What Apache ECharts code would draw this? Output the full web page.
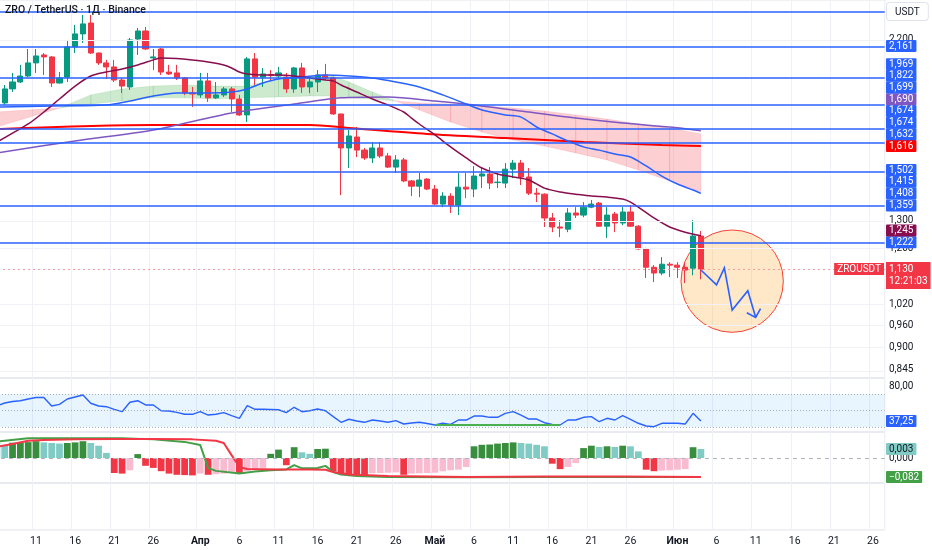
<!DOCTYPE html>
<html>
<head>
<meta charset="utf-8">
<script src="https://cdn.jsdelivr.net/npm/echarts@6/dist/echarts.min.js"></script>
<style>
html,body{margin:0;padding:0;background:#ffffff;}
#chart{width:932px;height:550px;}
</style>
</head>
<body>
<div id="chart"></div>
<script>
// ================= DATA =================
const firstDay = '2025-03-06';
const dayCount = 114;
const monthNames = ['Янв','Фев','Мар','Апр','Май','Июн','Июл','Авг','Сен','Окт','Ноя','Дек'];
const labelDays = [1, 6, 11, 16, 21, 26];

// daily candles: [open, close, low, high]
const candles = [
[1.875,1.832,1.820,1.890],[1.832,1.908,1.821,1.930],[1.908,1.947,1.891,1.999],[1.947,1.981,1.941,2.046],
[1.981,2.058,1.975,2.143],[2.058,2.100,1.999,2.143],[2.106,2.094,1.987,2.118],[2.094,1.941,1.919,2.100],
[1.941,1.970,1.938,2.004],[1.975,2.156,1.947,2.200],[2.156,2.239,2.118,2.298],[2.239,2.305,2.181,2.366],
[2.311,2.118,2.112,2.366],[2.118,2.058,2.046,2.120],[2.058,2.034,1.964,2.076],[2.034,1.958,1.947,2.076],
[1.958,1.924,1.886,1.970],[1.919,2.200,1.902,2.213],[2.206,2.258,2.106,2.278],[2.258,2.143,2.137,2.285],
[2.088,2.094,2.016,2.143],[2.143,2.004,1.987,2.150],[2.004,1.993,1.987,2.046],[1.999,1.970,1.958,2.046],
[1.970,1.886,1.875,1.975],[1.886,1.880,1.811,1.919],[1.875,1.953,1.859,1.999],[1.953,1.859,1.837,1.999],
[1.859,1.875,1.853,1.947],[1.875,1.908,1.864,1.919],[1.908,1.853,1.784,1.919],[1.853,1.769,1.764,1.875],
[1.769,2.082,1.733,2.094],[2.082,1.975,1.930,2.118],[1.975,1.993,1.919,2.028],[1.990,1.984,1.958,2.016],
[1.981,1.999,1.970,2.034],[1.975,1.908,1.886,1.999],[1.908,2.028,1.886,2.034],[2.028,1.919,1.886,2.058],
[1.919,1.947,1.886,1.970],[1.947,1.987,1.891,2.016],[1.987,1.970,1.958,2.052],[1.970,1.774,1.769,1.975],
[1.774,1.607,1.401,1.774],[1.607,1.664,1.516,1.693],[1.659,1.597,1.565,1.708],[1.597,1.561,1.552,1.607],
[1.561,1.607,1.538,1.635],[1.607,1.570,1.561,1.635],[1.570,1.520,1.516,1.584],[1.520,1.552,1.494,1.574],
[1.552,1.460,1.455,1.561],[1.460,1.438,1.397,1.464],[1.438,1.464,1.393,1.494],[1.468,1.426,1.422,1.472],
[1.426,1.365,1.361,1.443],[1.365,1.397,1.353,1.413],[1.397,1.361,1.330,1.409],[1.361,1.434,1.322,1.494],
[1.434,1.426,1.389,1.494],[1.426,1.481,1.393,1.525],[1.481,1.490,1.430,1.516],[1.490,1.451,1.426,1.520],
[1.453,1.455,1.430,1.494],[1.451,1.511,1.430,1.538],[1.511,1.538,1.472,1.552],[1.538,1.477,1.443,1.552],
[1.477,1.409,1.401,1.516],[1.409,1.405,1.373,1.430],[1.405,1.311,1.277,1.409],[1.311,1.277,1.258,1.330],
[1.277,1.273,1.240,1.303],[1.269,1.330,1.258,1.349],[1.330,1.322,1.311,1.353],[1.322,1.353,1.314,1.373],
[1.353,1.365,1.349,1.381],[1.369,1.280,1.277,1.373],[1.280,1.322,1.237,1.353],[1.326,1.292,1.258,1.334],
[1.292,1.334,1.284,1.353],[1.334,1.280,1.277,1.361],[1.280,1.198,1.195,1.284],[1.198,1.136,1.101,1.202],
[1.136,1.117,1.088,1.143],[1.117,1.146,1.110,1.170],[1.146,1.143,1.104,1.153],[1.143,1.136,1.101,1.153],
[1.136,1.127,1.085,1.150],[1.133,1.244,1.110,1.303],[1.244,1.130,1.097,1.262]
];

// moving averages (read at sampled candle indices)
const maFastIdx = [0,4,6,8,10,12,14,16,18,20,21,23,25,27,29,30,31,32,34,36,38,40,42,43,44,46,48,50,52,53,54,56,58,60,62,64,66,68,70,72,74,76,78,80,81,82,84,86,88,90];
const maFast    = [1.635,1.723,1.784,1.853,1.924,1.981,2.004,2.022,2.046,2.076,2.088,2.085,2.076,2.064,2.046,2.028,2.004,1.993,1.987,1.987,1.981,1.970,1.958,1.953,1.930,1.891,1.853,1.821,1.784,1.753,1.723,1.669,1.612,1.561,1.516,1.490,1.477,1.464,1.430,1.414,1.405,1.397,1.393,1.385,1.373,1.353,1.311,1.277,1.258,1.245];
const maMidIdx = [0,7,14,17,20,23,27,30,32,34,36,39,42,45,48,51,54,57,60,62,65,67,69,71,73,75,77,79,81,83,85,87,89,90];
const maMid    = [1.810,1.816,1.821,1.842,1.869,1.886,1.886,1.891,1.908,1.941,1.964,1.975,1.987,1.981,1.970,1.947,1.919,1.875,1.826,1.795,1.769,1.758,1.708,1.674,1.640,1.612,1.597,1.579,1.565,1.525,1.481,1.447,1.422,1.408];
const maSlowIdx = [0,10,20,30,38,44,50,56,62,68,74,80,86,90];
const maSlow    = [1.584,1.640,1.693,1.779,1.826,1.859,1.864,1.842,1.816,1.784,1.753,1.728,1.708,1.690];
const maLongIdx = [0,20,40,45,55,65,75,85,90];
const maLong    = [1.698,1.718,1.718,1.703,1.674,1.654,1.635,1.621,1.616];

// cloud boundaries (fast A / slow B)
const cloudIdx = [0,8,12,16,20,24,28,32,36,40,43,45,48,51,54,58,62,66,70,74,78,82,86,90];
const cloudA   = [1.708,1.805,1.875,1.908,1.924,1.930,1.924,1.924,1.964,1.981,1.981,1.947,1.891,1.842,1.795,1.733,1.683,1.645,1.616,1.584,1.552,1.507,1.460,1.415];
const cloudB   = [1.784,1.805,1.826,1.842,1.859,1.859,1.853,1.859,1.864,1.869,1.869,1.859,1.853,1.842,1.832,1.826,1.816,1.805,1.789,1.769,1.748,1.723,1.703,1.674];

// drawn horizontal levels
const hLines = [2.387, 2.161, 1.969, 1.822, 1.699, 1.632, 1.502, 1.359, 1.222];
const extraScaleValues = [1.674];
const priceTicks = [2.2, 1.3, 1.2, 1.02, 0.96, 0.9, 0.845];
const lastPrice = 1.130;
const countdown = '12:21:03';

// projection drawing
const projIdx = [90, 92, 93, 94, 96, 97];
const projVal = [1.127, 1.079, 1.134, 1.003, 1.061, 0.982];
const circleIdx = 94, circleCenter = 1.091, circleTop = 1.266;

// RSI
const rsi = [55.8,59.4,61.3,62.2,64.3,66.2,66.2,55.8,57.8,64.3,
66.8,69.2,59.1,55.8,54.9,51.7,48.8,60.3,62.2,57.0,
57.0,50.0,49.6,48.0,45.6,45.6,48.8,44.7,45.6,47.6,
43.9,40.7,56.1,51.7,51.7,51.5,51.2,47.6,54.2,48.8,
50.0,52.1,50.0,42.7,35.8,39.5,37.4,35.8,38.6,37.4,
35.8,37.8,33.7,34.9,35.8,34.3,32.5,34.6,33.3,38.6,
38.6,43.5,43.5,41.9,41.9,46.8,48.8,44.7,39.8,39.8,
35.3,33.3,32.5,38.6,38.6,41.9,42.7,36.5,40.7,38.6,
43.9,39.5,34.6,31.3,30.4,34.6,34.6,34.6,33.7,46.8,
37.25];
const rsiLevels = [70, 50, 30];
const bullIdx = [56, 72];
const bullVal = [32.5, 32.5];

// oscillator histogram
const hist = [0.0050,0.0043,0.0051,0.0052,0.0053,0.0056,0.0052,0.0050,0.0048,0.0050,
0.0052,0.0056,0.0050,0.0041,0.0017,-0.0050,-0.0052,-0.0041,0.0013,-0.0026,
-0.0033,-0.0044,-0.0052,-0.0056,-0.0057,-0.0058,-0.0052,-0.0056,-0.0054,-0.0052,
-0.0050,-0.0052,-0.0044,-0.0037,-0.0033,0.0014,0.0028,-0.0024,0.0036,0.0019,
0.0014,0.0030,0.0031,-0.0044,-0.0050,-0.0056,-0.0057,-0.0058,-0.0051,-0.0050,
-0.0049,-0.0048,-0.0056,-0.0052,-0.0051,-0.0050,-0.0049,-0.0044,-0.0041,-0.0039,
-0.0030,0.0039,0.0044,0.0045,0.0048,0.0050,0.0052,0.0050,0.0048,0.0044,
0.0039,-0.0019,-0.0037,-0.0030,-0.0017,0.0033,0.0041,0.0037,0.0039,0.0037,
0.0041,0.0039,0.0022,-0.0039,-0.0044,-0.0042,-0.0041,-0.0039,-0.0037,0.0036,
0.0030];
// oscillator lines
const oscRedIdx = [0,2,4,6,10,15,20,25,28,29,30,31,32,36,40,42,43,45,50,60,70,80,90];
const oscRed    = [0.76,0.84,0.93,0.95,0.97,0.98,0.98,0.97,0.93,0.87,0.53,0.20,0.14,0.13,0.13,0.12,0.06,-0.01,-0.05,-0.08,-0.07,-0.07,-0.08];
const oscGreenIdx = [0,4,10,16,20,24,26,27,28,31,33,35,37,38,39,41,42,43,44,46,50,60,70,80,90];
const oscGreen    = [0.91,1.00,1.00,1.00,0.97,0.90,0.81,0.17,0.09,0.02,0.07,0.11,0.13,0.25,0.16,0.17,0.23,0.06,-0.01,-0.05,-0.08,-0.09,-0.08,-0.08,-0.082];

// ================= BUILD =================
const dates = [];
const d0 = new Date(firstDay + 'T00:00:00Z').getTime();
for (let i = 0; i < dayCount; i++) dates.push(new Date(d0 + i * 86400000).toISOString().slice(0, 10));
const dayOf = s => +s.slice(8, 10);
const isLabelDay = (index) => labelDays.indexOf(dayOf(dates[index])) >= 0;
const pairs = (idx, vals) => idx.map((i, k) => [dates[i], vals[k]]);

const GL = -7, GR = 47.3;
const gridDefs = [[0, 378], [378, 54], [432, 51], [483, 47]];
const FONTF = 'Roboto, "Noto Sans", sans-serif';

const xAxes = gridDefs.map((g, gi) => ({
  type: 'category', gridIndex: gi, data: dates, boundaryGap: true,
  axisLine: { show: false }, axisTick: { show: false },
  axisLabel: {
    show: gi === 3, interval: isLabelDay, margin: 6, color: '#131722', fontSize: 10.5, fontFamily: FONTF,
    formatter: v => dayOf(v) === 1 ? '{m|' + monthNames[+v.slice(5, 7) - 1] + '}' : String(dayOf(v)),
    rich: { m: { fontWeight: 'bold', fontSize: 10.5, color: '#131722', fontFamily: FONTF } }
  },
  splitLine: { show: true, interval: isLabelDay, lineStyle: { color: '#eff1f6', width: 1 } }
}));

const yAxes = [
  { type: 'log', logBase: 10, gridIndex: 0, min: 0.8232, max: 2.471, show: false },
  { type: 'value', gridIndex: 1, min: 23.92, max: 90.04, show: false },
  { type: 'value', gridIndex: 2, min: -0.008333, max: 0.008667, show: false },
  { type: 'value', gridIndex: 2, min: -0.2486, max: 1.176, show: false },
  { type: 'value', gridIndex: 3, min: 0, max: 1, show: false }
];

const nulls = dates.map(() => null);

const series = [
  { // tick gridlines
    type: 'line', xAxisIndex: 0, yAxisIndex: 0, data: nulls, z: 0, silent: true,
    markLine: { silent: true, symbol: ['none', 'none'], label: { show: false }, animation: false,
      lineStyle: { color: '#f0f2f7', width: 1, type: 'solid' },
      data: priceTicks.map(v => ({ yAxis: v })) }
  },
  { // cloud
    type: 'custom', xAxisIndex: 0, yAxisIndex: 0, z: 1, silent: true,
    data: cloudIdx.map((x, k) => [x, cloudA[k], cloudB[k]]),
    encode: { x: 0, y: [1, 2] },
    renderItem: (p, api) => {
      const k = p.dataIndex;
      if (k >= cloudIdx.length - 1) return null;
      const a1 = api.coord([cloudIdx[k], cloudA[k]]), b1 = api.coord([cloudIdx[k], cloudB[k]]);
      const a2 = api.coord([cloudIdx[k + 1], cloudA[k + 1]]), b2 = api.coord([cloudIdx[k + 1], cloudB[k + 1]]);
      const up = (cloudA[k] + cloudA[k + 1]) >= (cloudB[k] + cloudB[k + 1]);
      return { type: 'polygon', shape: { points: [a1, a2, b2, b1] },
        style: { fill: up ? 'rgba(76,175,80,0.28)' : 'rgba(242,54,69,0.24)', stroke: up ? 'rgba(76,175,80,0.28)' : 'rgba(242,54,69,0.24)', lineWidth: 0.5 } };
    }
  },
  { // circle drawing
    type: 'custom', xAxisIndex: 0, yAxisIndex: 0, z: 1, silent: true,
    data: [[circleIdx, circleCenter, circleTop]],
    encode: { x: 0, y: [1, 2] },
    renderItem: (p, api) => {
      const c = api.coord([circleIdx, circleCenter]);
      const t = api.coord([circleIdx, circleTop]);
      return { type: 'circle', shape: { cx: c[0], cy: c[1], r: c[1] - t[1] },
        style: { fill: 'rgba(255,152,0,0.22)', stroke: '#f44336', lineWidth: 1 } };
    }
  },
  {
    type: 'candlestick', xAxisIndex: 0, yAxisIndex: 0, data: candles, barWidth: '72%', z: 3,
    itemStyle: { color: '#089981', color0: '#f23645', borderColor: '#089981', borderColor0: '#f23645', borderWidth: 1 }
  },
  { type: 'line', xAxisIndex: 0, yAxisIndex: 0, data: pairs(maLongIdx, maLong), smooth: 0.3, symbol: 'none', z: 4,
    lineStyle: { color: '#ff0000', width: 2 } },
  { type: 'line', xAxisIndex: 0, yAxisIndex: 0, data: pairs(maSlowIdx, maSlow), smooth: 0.3, symbol: 'none', z: 4,
    lineStyle: { color: '#7e57c2', width: 1.5 } },
  { type: 'line', xAxisIndex: 0, yAxisIndex: 0, data: pairs(maMidIdx, maMid), smooth: 0.3, symbol: 'none', z: 4,
    lineStyle: { color: '#2962ff', width: 1.5 } },
  { type: 'line', xAxisIndex: 0, yAxisIndex: 0, data: pairs(maFastIdx, maFast), smooth: 0.3, symbol: 'none', z: 4,
    lineStyle: { color: '#880e4f', width: 1.5 } },
  { // horizontal drawn levels + last price line
    type: 'line', xAxisIndex: 0, yAxisIndex: 0, data: nulls, z: 5, silent: true,
    markLine: { silent: true, symbol: ['none', 'none'], label: { show: false }, animation: false,
      data: hLines.map(v => ({ yAxis: v, lineStyle: { color: '#2962ff', width: 1.5, type: 'solid' } }))
        .concat([{ yAxis: lastPrice, lineStyle: { color: '#f59aa2', width: 1, type: [2, 3], opacity: 1 } }]) }
  },
  { // projection arrow
    type: 'custom', xAxisIndex: 0, yAxisIndex: 0, z: 6, silent: true,
    data: projIdx.map((x, k) => [x, projVal[k]]),
    encode: { x: 0, y: 1 },
    renderItem: (p, api) => {
      if (p.dataIndex !== 0) return null;
      const pts = projIdx.map((x, k) => api.coord([x, projVal[k]]));
      const a = pts[pts.length - 2], b = pts[pts.length - 1];
      const dx = b[0] - a[0], dy = b[1] - a[1], len = Math.hypot(dx, dy);
      const ux = dx / len, uy = dy / len, hl = 10, ang = 0.8;
      const barb = s => [b[0] - hl * (ux * Math.cos(s) - uy * Math.sin(s)), b[1] - hl * (ux * Math.sin(s) + uy * Math.cos(s))];
      return { type: 'group', children: [
        { type: 'polyline', shape: { points: pts }, style: { stroke: '#2962ff', lineWidth: 1.6, fill: 'none' } },
        { type: 'polyline', shape: { points: [barb(ang), b, barb(-ang)] }, style: { stroke: '#2962ff', lineWidth: 1.6, fill: 'none' } }
      ] };
    }
  },
  { // RSI
    type: 'line', xAxisIndex: 1, yAxisIndex: 1, data: rsi, symbol: 'none', z: 3,
    lineStyle: { color: '#2962ff', width: 1.4 },
    markArea: { silent: true, itemStyle: { color: 'rgba(33,150,243,0.10)' }, data: [[{ yAxis: rsiLevels[2] }, { yAxis: rsiLevels[0] }]] },
    markLine: { silent: true, symbol: ['none', 'none'], label: { show: false }, animation: false,
      data: rsiLevels.map(v => ({ yAxis: v, lineStyle: { color: '#9598a1', width: 1, type: [1, 2], opacity: 0.8 } }))
        .concat([[{ coord: [dates[bullIdx[0]], bullVal[0]], lineStyle: { color: '#4caf50', width: 2, type: 'solid' } },
                  { coord: [dates[bullIdx[1]], bullVal[1]] }]]) }
  },
  { // histogram
    type: 'bar', xAxisIndex: 2, yAxisIndex: 2, data: hist, barWidth: '86%', z: 2,
    itemStyle: { color: p => {
      const i = p.dataIndex, v = hist[i], pv = i > 0 ? hist[i - 1] : v;
      return v >= 0 ? (v > pv ? '#388e3c' : '#80cbc4') : (v < pv ? '#f23645' : '#f8bbd0');
    } },
    markLine: { silent: true, symbol: ['none', 'none'], label: { show: false }, animation: false,
      data: [{ yAxis: 0, lineStyle: { color: '#b2b5be', width: 1, type: [4, 4] } }] }
  },
  { type: 'line', xAxisIndex: 2, yAxisIndex: 3, data: pairs(oscGreenIdx, oscGreen), symbol: 'none', z: 3,
    lineStyle: { color: '#43a047', width: 2 } },
  { type: 'line', xAxisIndex: 2, yAxisIndex: 3, data: pairs(oscRedIdx, oscRed), symbol: 'none', z: 4,
    lineStyle: { color: '#f23645', width: 2 } },
  { type: 'line', xAxisIndex: 3, yAxisIndex: 4, data: nulls, symbol: 'none', silent: true }
];

const option = {
  animation: false,
  backgroundColor: '#ffffff',
  textStyle: { fontFamily: FONTF },
  grid: gridDefs.map(g => ({ left: GL, right: GR, top: g[0], height: g[1], show: true,
    borderColor: '#e0e3eb', borderWidth: 1, backgroundColor: 'transparent', outerBoundsMode: 'none', containLabel: false })),
  xAxis: xAxes,
  yAxis: yAxes,
  series: series
};

const chart = echarts.init(document.getElementById('chart'), null, { renderer: 'canvas' });
chart.setOption(option);

// ================= SCALE LABELS =================
const FONT = '10px ' + FONTF;
const AX = 886;
const py = (axisIdx, v) => chart.convertToPixel({ yAxisIndex: axisIdx }, v);
const fmt3 = v => (v < 0 ? '−' : '') + Math.abs(v).toFixed(3).replace('.', ',');
const fmt2 = v => v.toFixed(2).replace('.', ',');
const last = a => a[a.length - 1];
const els = [];
function plain(text, y) {
  els.push({ type: 'text', x: AX + 3, y: y, z: 50, silent: true,
    style: { text: text, fill: '#131722', font: FONT, verticalAlign: 'middle', align: 'left' } });
}
function box(text, y, bg, fg) {
  els.push({ type: 'text', x: AX, y: y, z: 60, silent: true,
    style: { text: text, fill: fg || '#ffffff', font: FONT, backgroundColor: bg, padding: [1, 3, 1, 3],
      lineHeight: 10, verticalAlign: 'middle', align: 'left', borderRadius: 1 } });
}

priceTicks.forEach(v => plain(fmt3(v), py(0, v)));

// top level label sits under the currency box, so only levels below it get a tag
const mainLabels = hLines.filter(v => v < 2.3).map(v => ({ v: v, bg: '#2962ff' }))
  .concat([
    { v: last(maSlow), bg: '#7e57c2' },
    { v: last(maLong), bg: '#ff0000' },
    { v: last(maFast), bg: '#880e4f' },
    { v: last(maMid), bg: '#2962ff' },
    { v: last(cloudB), bg: '#2962ff' },
    { v: last(cloudA), bg: '#2962ff' }
  ])
  .concat(extraScaleValues.map(v => ({ v: v, bg: '#2962ff' })));
mainLabels.forEach(o => { o.y = py(0, o.v); });
mainLabels.sort((a, b) => b.y - a.y);
let prevY = Infinity;
mainLabels.forEach(o => {
  const y = Math.min(o.y, prevY - 11.7);
  prevY = y;
  box(fmt3(o.v), y, o.bg);
});

// last price
const yp = py(0, lastPrice);
els.push({ type: 'text', x: AX - 2, y: yp, z: 60, silent: true,
  style: { text: 'ZROUSDT', fill: '#ffffff', font: FONT, backgroundColor: '#f23645', padding: [1, 3, 1, 3],
    lineHeight: 10, align: 'right', verticalAlign: 'middle' } });
els.push({ type: 'text', x: AX, y: yp - 7, z: 60, silent: true,
  style: { text: fmt3(lastPrice) + '\n' + countdown, fill: '#ffffff', font: FONT, backgroundColor: '#f23645',
    padding: [1, 3, 2, 3], lineHeight: 12, align: 'left', verticalAlign: 'top' } });

// RSI pane
plain('80,00', py(1, 80));
box(fmt2(last(rsi)), py(1, last(rsi)), '#2962ff');
// oscillator pane
plain(fmt3(0), py(2, 0));
box(fmt3(last(hist)), py(2, last(hist)), '#80cbc4', '#131722');
box(fmt3(last(oscGreen)), py(3, last(oscGreen)), '#43a047');

// currency box and title
els.push({ type: 'text', x: 887, y: 3, z: 70, silent: true,
  style: { text: 'USDT', fill: '#131722', font: FONT, backgroundColor: '#ffffff', borderColor: '#e0e3eb',
    borderWidth: 1, borderRadius: 3, padding: [4, 8, 3, 8], verticalAlign: 'top', align: 'left' } });
els.push({ type: 'text', x: 5, y: 5, z: 70, silent: true,
  style: { text: 'ZRO / TetherUS · 1Д · Binance', fill: '#131722', font: '500 10.5px ' + FONTF,
    verticalAlign: 'top', align: 'left' } });

chart.setOption({ graphic: els });
</script>
</body>
</html>
